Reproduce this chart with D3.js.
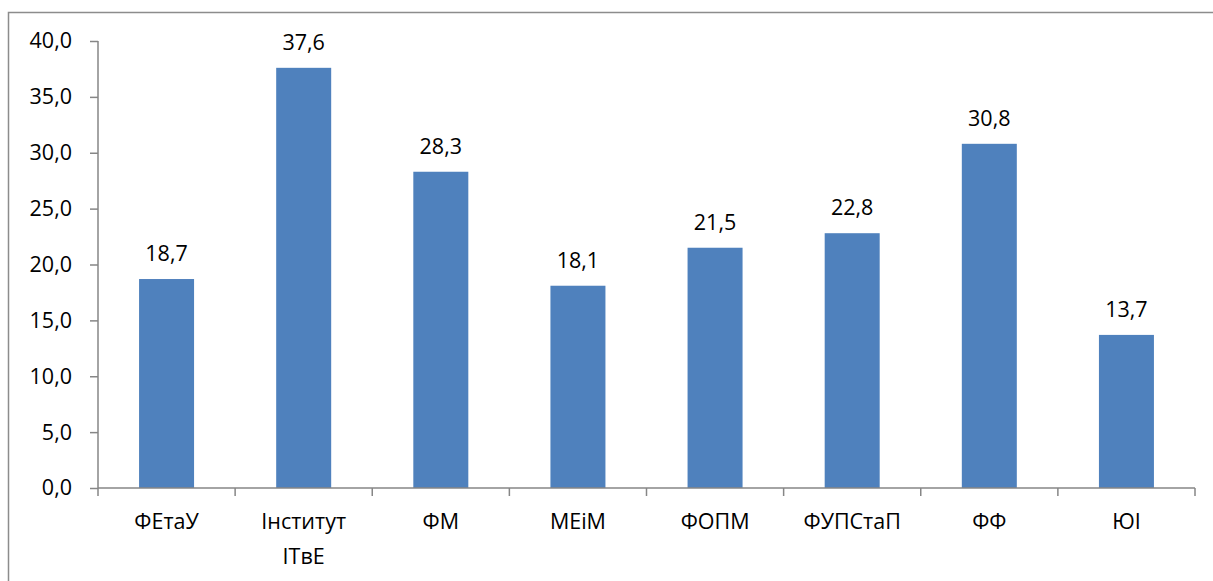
<html>
<head>
<meta charset="utf-8">
<script src="https://d3js.org/d3.v7.min.js"></script>
<style>
body { margin: 0; background: #fff; }
text { font-family: "Open Sans", sans-serif; fill: #000; }
</style>
</head>
<body>
<svg width="1213" height="581"></svg>
<script>
var categories = ["ФЕтаУ", "Інститут ІТвЕ", "ФМ", "МЕіМ", "ФОПМ", "ФУПСтаП", "ФФ", "ЮІ"];
var values = [18.7, 37.6, 28.3, 18.1, 21.5, 22.8, 30.8, 13.7];
var yTicks = [0, 5, 10, 15, 20, 25, 30, 35, 40];

var svg = d3.select("svg");
var fmt = function (d) { return d.toFixed(1).replace(".", ","); };
var fs = "21.5px";

// outer frame (runs off the right and bottom edges)
svg.append("rect")
  .attr("x", 8.5).attr("y", 12.5)
  .attr("width", 1300).attr("height", 700)
  .attr("fill", "none").attr("stroke", "#8c8c8c").attr("stroke-width", 1.5);

var xBand = d3.scaleBand().domain(categories).range([98, 1195]);
var y = d3.scaleLinear().domain([0, 40]).range([488, 41]);
var cx = function (c) { return xBand(c) + xBand.bandwidth() / 2; };

// bars
svg.selectAll("rect.bar").data(values).enter().append("rect")
  .attr("class", "bar")
  .attr("x", function (d, i) { return cx(categories[i]) - 27.5; })
  .attr("width", 55)
  .attr("y", function (d) { return y(d); })
  .attr("height", function (d) { return y(0) - y(d); })
  .attr("fill", "#4f81bd");

// value labels
svg.selectAll("text.val").data(values).enter().append("text")
  .attr("class", "val")
  .attr("x", function (d, i) { return cx(categories[i]); })
  .attr("y", function (d) { return y(d) - 18; })
  .attr("text-anchor", "middle")
  .style("font-size", fs)
  .text(fmt);

// y axis
var yAxis = svg.append("g").attr("transform", "translate(98,0)")
  .call(d3.axisLeft(y).tickValues(yTicks).tickSize(8).tickPadding(18).tickFormat(fmt));
yAxis.selectAll("line, path").attr("stroke", "#868686").attr("stroke-width", 1.5);
yAxis.select("path").attr("d", "M0," + y(40) + "V" + y(0));
yAxis.selectAll("text").style("font-size", fs).attr("font-family", null).attr("fill", "#000");

// x axis line and ticks at band edges
svg.append("line").attr("x1", 98).attr("x2", 1195).attr("y1", y(0)).attr("y2", y(0))
  .attr("stroke", "#868686").attr("stroke-width", 1.5);
var edges = categories.map(function (c) { return xBand(c); }).concat([1195]);
svg.selectAll("line.xt").data(edges).enter().append("line")
  .attr("class", "xt")
  .attr("x1", function (d) { return d; }).attr("x2", function (d) { return d; })
  .attr("y1", y(0)).attr("y2", y(0) + 8)
  .attr("stroke", "#868686").attr("stroke-width", 1.5);

// category labels (wrap on spaces)
var cat = svg.selectAll("text.cat").data(categories).enter().append("text")
  .attr("class", "cat")
  .attr("text-anchor", "middle")
  .style("font-size", fs);
cat.each(function (c) {
  var t = d3.select(this);
  c.split(" ").forEach(function (w, j) {
    t.append("tspan")
      .attr("x", cx(c))
      .attr("y", 529 + j * 35)
      .text(w);
  });
});
</script>
</body>
</html>
